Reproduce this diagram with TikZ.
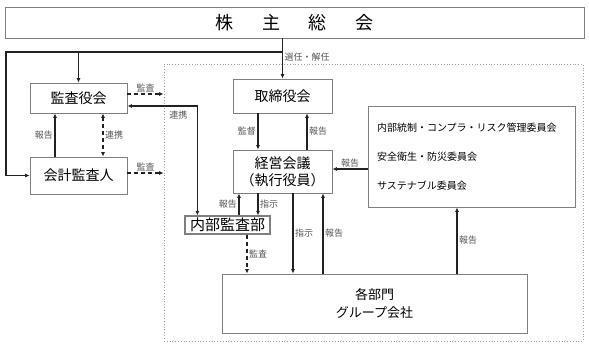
\documentclass[tikz,border=0pt]{standalone}
\usepackage{fontspec}
\setmainfont{Noto Sans CJK JP}
\usepackage{tikz}
\usetikzlibrary{arrows.meta,calc}
\definecolor{orgline}{HTML}{222222}
\definecolor{orgframe}{HTML}{7F7F7F}
\definecolor{orglabel}{HTML}{555555}
\definecolor{orgdots}{HTML}{A0A0A0}

\begin{document}
\begin{tikzpicture}[x=1pt,y=-1pt,
  font=\fontsize{14}{17}\selectfont,
  box/.style={draw=orgframe,line width=0.8pt,fill=white,inner sep=0pt,align=center},
  lbl/.style={font=\fontsize{9}{10}\selectfont,text=orglabel,inner sep=1.5pt},
  arr/.style={-{Latex[length=4.5pt,width=4pt]},draw=orgline,line width=1.2pt},
  darr/.style={arr,dash pattern=on 4pt off 3pt},
  twoarr/.style={{Latex[length=4.5pt,width=4pt]}-{Latex[length=4.5pt,width=4pt]},draw=orgline,line width=1.2pt}
]
\useasboundingbox (0,0) rectangle (589,351);

\node[draw=orgdots,dotted,line width=0.8pt,minimum width=419pt,minimum height=277pt] (area) at (373.5,202.5) {};

\node[box,minimum width=579pt,minimum height=31pt,font=\fontsize{18}{20}\selectfont] (sh) at (294.5,22.5) {株\hspace{29pt}主\hspace{29pt}総\hspace{29pt}会};
\node[box,minimum width=97pt,minimum height=30pt] (kan) at (78.5,98) {監査役会};
\node[box,minimum width=97pt,minimum height=37pt] (kai) at (78.5,175.5) {会計監査人};
\node[box,minimum width=99pt,minimum height=34pt] (tori) at (282.5,96) {取締役会};
\node[box,minimum width=99pt,minimum height=43pt] (kei) at (282.5,171.5) {経営会議\\（執行役員）};
\node[box,line width=1.2pt,minimum width=85pt,minimum height=18pt,font=\fontsize{15}{17}\selectfont] (nai) at (227.5,225) {内部監査部};
\node[box,minimum width=207pt,minimum height=101pt,text width=189pt,align=left,font=\fontsize{10}{12}\selectfont] (iin) at (471.5,156.5) {内部統制・コンプラ・リスク管理委員会\\[17pt]安全衛生・防災委員会\\[17pt]サステナブル委員会};
\node[box,minimum width=305pt,minimum height=59pt,font=\fontsize{13}{18}\selectfont] (bu) at (374.5,303.5) {各部門\\グループ会社};

% shareholders
\coordinate (top) at (282.5,52);
\coordinate (lft) at (6,52);
\draw[arr] (sh.south -| tori.north) -- (tori.north) node[lbl,right,pos=0.46] {選任・解任};
\draw[arr] (top) -- (lft) |- (kai.west);
\draw[arr] (kan.north |- top) -- (kan.north);

% audit side
\draw[darr] ($(kan.east)+(0,-4)$) -- ($(kan.east -| area.west)+(0,-4)$) node[lbl,above,midway] {監査};
\draw[darr] ($(kai.east)+(0,-2.5)$) -- ($(kai.east -| area.west)+(0,-2.5)$) node[lbl,above,midway] {監査};
\draw[twoarr] ($(kan.east)+(0,8)$) -| ($(nai.north west)+(13,0)$) node[lbl,pos=0.5,anchor=north east,xshift=-8pt,yshift=-3pt] {連携};
\draw[arr] ($(kai.north)+(-23.5,0)$) -- ($(kan.south)+(-23.5,0)$) node[lbl,left,midway] {報告};
\draw[twoarr,dash pattern=on 4pt off 3pt] ($(kan.south)+(24.5,0)$) -- ($(kai.north)+(24.5,0)$) node[lbl,right,midway] {連携};

% execution side
\draw[arr] ($(tori.south)+(-24.5,0)$) -- ($(kei.north)+(-24.5,0)$) node[lbl,left,midway] {監督};
\draw[arr] ($(kei.north)+(24.5,0)$) -- ($(tori.south)+(24.5,0)$) node[lbl,right,midway] {報告};
\draw[arr] ($(kei.east -| iin.west)+(0,-2.5)$) -- ($(kei.east)+(0,-2.5)$) node[lbl,above,midway] {報告};
\draw[arr] ($(nai.north)+(11.5,0)$) -- ($(kei.south)+(-43.5,0)$) node[lbl,left,midway] {報告};
\draw[arr] ($(kei.south)+(-24.5,0)$) -- ($(nai.north)+(30.5,0)$) node[lbl,right,midway] {指示};
\draw[darr] ($(nai.south)+(19.5,0)$) -- ($(bu.north)+(-127.5,0)$) node[lbl,right,midway] {監査};
\draw[arr] ($(kei.south)+(10.5,0)$) -- ($(bu.north)+(-81.5,0)$) node[lbl,right,midway] {指示};
\draw[arr] ($(bu.north)+(-51.5,0)$) -- ($(kei.south)+(40.5,0)$) node[lbl,right,midway] {報告};
\draw[arr] ($(bu.north)+(82.5,0)$) -- ($(iin.south)+(-14.5,0)$) node[lbl,right,midway] {報告};
\end{tikzpicture}
\end{document}
